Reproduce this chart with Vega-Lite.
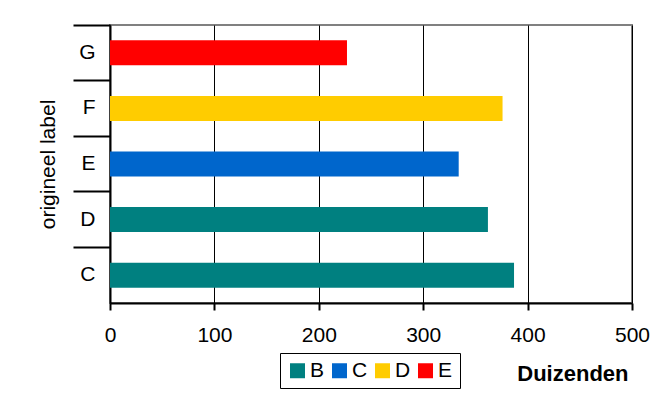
{
  "$schema": "https://vega.github.io/schema/vega-lite/v6.json",
  "autosize": {"type": "none"},
  "padding": {"left": 110, "top": 25, "right": 31, "bottom": 93},
  "width": 522,
  "height": 278,
  "background": "white",
  "config": {
    "font": "Liberation Sans",
    "view": {"stroke": "#808080", "strokeWidth": 2}
  },
  "data": {
    "values": [
      {"label": "C", "series": "B", "value": 387},
      {"label": "D", "series": "B", "value": 362},
      {"label": "E", "series": "C", "value": 334},
      {"label": "F", "series": "D", "value": 376},
      {"label": "G", "series": "E", "value": 227}
    ]
  },
  "mark": {"type": "bar", "height": {"band": 0.45}},
  "encoding": {
    "y": {
      "field": "label",
      "type": "nominal",
      "sort": ["G", "F", "E", "D", "C"],
      "scale": {"paddingInner": 0, "paddingOuter": 0},
      "axis": {
        "title": "origineel label",
        "titleFont": "Liberation Sans",
        "titleFontSize": 21,
        "titleFontWeight": "normal",
        "titleColor": "black",
        "titleAngle": -90,
        "titleX": -62,
        "titleY": 139,
        "titleAlign": "center",
        "titleBaseline": "middle",
        "bandPosition": 0,
        "tickSize": 37,
        "tickColor": "black",
        "tickWidth": 2,
        "domainColor": "black",
        "domainWidth": 2,
        "labelFontSize": 21,
        "labelColor": "black",
        "labelPadding": -22,
        "labelOffset": 0,
        "labelAlign": "right",
        "labelBaseline": "middle"
      }
    },
    "x": {
      "field": "value",
      "type": "quantitative",
      "scale": {"domain": [0, 500], "nice": false},
      "axis": {
        "values": [0, 100, 200, 300, 400, 500],
        "title": "Duizenden",
        "titleFontSize": 22,
        "titleFontWeight": "bold",
        "titleColor": "black",
        "titleAlign": "right",
        "titleBaseline": "alphabetic",
        "titleAnchor": null,
        "titleX": 518,
        "titleY": 77,
        "grid": true,
        "gridColor": "black",
        "gridWidth": 1,
        "gridOpacity": 1,
        "domainColor": "black",
        "domainWidth": 2,
        "tickColor": "black",
        "tickWidth": 2,
        "tickSize": 7,
        "labelFontSize": 21,
        "labelColor": "black",
        "labelPadding": 14,
        "labelFlush": false,
        "labelOverlap": false
      }
    },
    "color": {
      "field": "series",
      "type": "nominal",
      "scale": {
        "domain": ["B", "C", "D", "E"],
        "range": ["#008080", "#0066CC", "#FFCC00", "#FF0000"]
      },
      "legend": {
        "title": null,
        "orient": "none",
        "legendX": 170,
        "legendY": 328,
        "direction": "horizontal",
        "strokeColor": "black",
        "padding": 7,
        "columnPadding": 4,
        "symbolType": "square",
        "symbolSize": 225,
        "symbolStrokeWidth": 0,
        "symbolOpacity": 1,
        "labelFontSize": 21,
        "labelColor": "black",
        "labelOffset": 2
      }
    }
  }
}
